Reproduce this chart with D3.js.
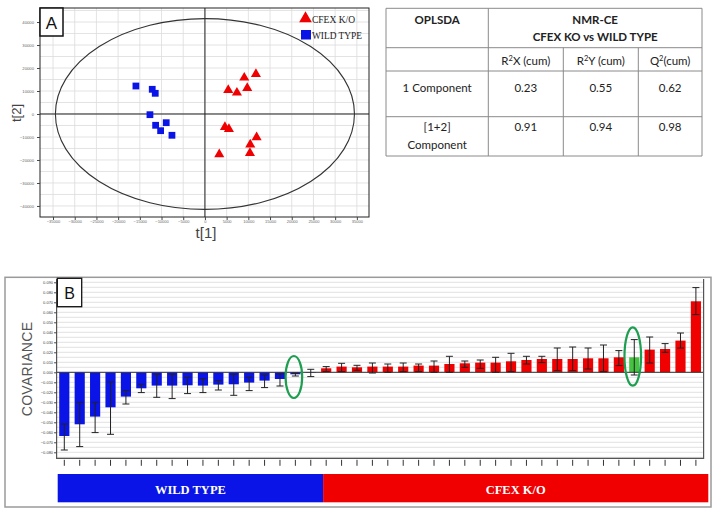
<!DOCTYPE html>
<html><head><meta charset="utf-8">
<script src="https://cdn.jsdelivr.net/npm/d3@7"></script>
<style>body{margin:0;background:#fff}svg{display:block}</style>
</head><body>
<svg id="c" width="714" height="514"></svg>
<script>
// ---------- Panel A : OPLS-DA score plot ----------
const wtT1 = [-15900, -12140, -11450, -12670, -11360, -8920, -10210, -7600];
const wtT2 = [12170, 10740, 9000, -300, -4910, -3780, -7260, -9260];
const koT1 = [11750, 9060, 5370, 7370, 9750, 4610, 5530, 11910, 10440, 10370, 3300];
const koT2 = [17390, 15780, 10430, 9260, 11300, -5650, -6520, -10130, -13350, -16960, -17520];
const t1Ticks = d3.range(-35000, 35001, 5000);
const t2Ticks = d3.range(-40000, 40001, 10000);
const ellipseT1 = 34450, ellipseT2 = 41500;
const groupNames = ["CFEX K/O", "WILD TYPE"];

// ---------- Table ----------
const tableHeader = ["OPLSDA", "NMR-CE", "CFEX KO vs WILD TYPE"];
const statNames = ["R", "X (cum)", "R", "Y (cum)", "Q", "(cum)"];
const rowNames = [["1 Component"], ["[1+2]", "Component"]];
const R2X = [0.23, 0.91];
const R2Y = [0.55, 0.94];
const Q2 = [0.62, 0.98];

// ---------- Panel B : covariance bars ----------
const variables = d3.range(1, 43).map(i => "V" + i);
const covariance = [-0.0637, -0.052, -0.0443, -0.035, -0.0243, -0.016, -0.0133, -0.0133, -0.013, -0.0133,
  -0.0123, -0.012, -0.0103, -0.0083, -0.0067, -0.002, -0.0005,
  0.004, 0.0057, 0.005, 0.0057, 0.0057, 0.0057, 0.0067, 0.0067, 0.0083, 0.009, 0.0097, 0.0097, 0.011,
  0.0123, 0.0133, 0.0133, 0.0133, 0.014, 0.014, 0.015, 0.015, 0.0227, 0.0233, 0.0317, 0.071];
const errHigh = [-0.0517, -0.030, -0.030, -0.0097, -0.0183, -0.012, -0.002, -0.002, -0.005, -0.0063,
  -0.0083, -0.002, -0.005, -0.0027, -0.0017, -0.001, 0.003,
  0.0057, 0.009, 0.007, 0.0093, 0.0083, 0.0093, 0.0083, 0.0113, 0.016, 0.0113, 0.0123, 0.015, 0.019,
  0.016, 0.016, 0.0243, 0.0253, 0.0243, 0.0273, 0.0217, 0.0327, 0.0353, 0.0287, 0.0393, 0.0847];
const errLow = [-0.0777, -0.0743, -0.0603, -0.062, -0.0317, -0.0203, -0.025, -0.0263, -0.0213, -0.0203,
  -0.0177, -0.023, -0.0183, -0.0153, -0.0137, -0.0037, -0.0043,
  0.0007, 0.0007, 0.002, -0.0007, 0.0, 0.0007, 0.0007, 0.0, 0.0, 0.005, 0.004, 0.0, 0.0007,
  0.0083, 0.0097, 0.0017, 0.0017, 0.0033, 0.0007, 0.0067, -0.0027, 0.0093, 0.020, 0.0243, 0.0577];
const highlighted = ["V16", "V38"];
const ringTop = [0.0163, 0.045];
const ringBottom = [-0.0257, -0.0134];
const covTicks = d3.range(-0.08, 0.0901, 0.01);
const groupSplit = 17; // first CFEX K/O variable index

const BLUE = "#0a14e6", RED = "#f00000", GREEN = "#45c23f", RING = "#1e9e50";
const svg = d3.select("#c");

// ======== Panel A ========
const A = {l: 40, r: 369, t: 8, b: 217};
const xA = d3.scaleLinear().domain([-38000, 37800]).range([A.l, A.r]);
const yA = d3.scaleLinear().domain([46100, -44800]).range([A.t, A.b]);
const gA = svg.append("g");
gA.append("rect").attr("x", A.l).attr("y", A.t).attr("width", A.r - A.l).attr("height", A.b - A.t).attr("fill", "#fff");
gA.selectAll(".vg").data(t1Ticks).join("line")
  .attr("x1", d => xA(d)).attr("x2", d => xA(d)).attr("y1", A.t).attr("y2", A.b)
  .attr("stroke", "#dcdcdc").attr("stroke-width", 0.8);
gA.selectAll(".hg").data(d3.range(-40000, 45001, 5000)).join("line")
  .attr("y1", d => yA(d)).attr("y2", d => yA(d)).attr("x1", A.l).attr("x2", A.r)
  .attr("stroke", "#dcdcdc").attr("stroke-width", 0.8);
gA.append("line").attr("x1", xA(0)).attr("x2", xA(0)).attr("y1", A.t).attr("y2", A.b).attr("stroke", "#222").attr("stroke-width", 1);
gA.append("line").attr("y1", yA(0)).attr("y2", yA(0)).attr("x1", A.l).attr("x2", A.r).attr("stroke", "#222").attr("stroke-width", 1);
gA.append("ellipse").attr("cx", xA(0)).attr("cy", yA(0))
  .attr("rx", xA(ellipseT1) - xA(0)).attr("ry", yA(0) - yA(ellipseT2))
  .attr("fill", "none").attr("stroke", "#333").attr("stroke-width", 1.1);
gA.append("rect").attr("x", A.l).attr("y", A.t).attr("width", A.r - A.l).attr("height", A.b - A.t)
  .attr("fill", "none").attr("stroke", "#222").attr("stroke-width", 1);
const axB = gA.append("g").attr("transform", `translate(0,${A.b})`)
  .call(d3.axisBottom(xA).tickValues(t1Ticks).tickSize(3).tickFormat(d3.format("d")));
axB.select(".domain").remove();
axB.selectAll("text").attr("font-size", 4).attr("fill", "#666").attr("y", 4).attr("dy", "0.5em");
axB.selectAll("line").attr("stroke", "#444");
const axL = gA.append("g").attr("transform", `translate(${A.l},0)`)
  .call(d3.axisLeft(yA).tickValues(t2Ticks).tickSize(3).tickFormat(d3.format("d")));
axL.select(".domain").remove();
axL.selectAll("text").attr("font-size", 4.2).attr("fill", "#666");
axL.selectAll("line").attr("stroke", "#444");
gA.append("text").attr("x", 206).attr("y", 238).attr("text-anchor", "middle")
  .attr("font-family", "Liberation Sans, Arial").attr("font-size", 15).attr("fill", "#444").text("t[1]");
gA.append("text").attr("transform", "translate(21,113) rotate(-90)").attr("text-anchor", "middle")
  .attr("font-family", "Liberation Sans, Arial").attr("font-size", 13).attr("fill", "#444").text("t[2]");
gA.selectAll(".wt").data(wtT1).join("path")
  .attr("transform", (d, i) => `translate(${xA(d)},${yA(wtT2[i])})`)
  .attr("d", d3.symbol(d3.symbolSquare, 46)).attr("fill", BLUE);
gA.selectAll(".ko").data(koT1).join("path")
  .attr("transform", (d, i) => `translate(${xA(d)},${yA(koT2[i])})`)
  .attr("d", d3.symbol(d3.symbolTriangle, 44)).attr("fill", RED);
gA.append("rect").attr("x", 40).attr("y", 8).attr("width", 23).attr("height", 28)
  .attr("fill", "#fff").attr("stroke", "#111").attr("stroke-width", 1.5);
gA.append("text").attr("x", 51.5).attr("y", 29).attr("text-anchor", "middle")
  .attr("font-family", "Liberation Sans, Arial").attr("font-size", 17).attr("fill", "#111").text("A");
gA.append("path").attr("transform", "translate(305.5,18.5)").attr("d", d3.symbol(d3.symbolTriangle, 70)).attr("fill", RED);
gA.append("rect").attr("x", 301).attr("y", 30).attr("width", 10).attr("height", 9.5).attr("fill", BLUE);
gA.append("text").attr("x", 312).attr("y", 22.5).attr("font-family", "Liberation Serif, Times New Roman")
  .attr("font-size", 11).attr("textLength", 43).attr("lengthAdjust", "spacingAndGlyphs")
  .attr("fill", "#222").text(groupNames[0]);
gA.append("text").attr("x", 312).attr("y", 39.3).attr("font-family", "Liberation Serif, Times New Roman")
  .attr("font-size", 11).attr("textLength", 50).attr("lengthAdjust", "spacingAndGlyphs")
  .attr("fill", "#222").text(groupNames[1]);

// ======== Table ========
const gT = svg.append("g").attr("font-family", "Lato, Open Sans, sans-serif").attr("fill", "#222");
const TX = [386, 488.3, 563.3, 638.3, 702];
const TY = [8.3, 47.7, 71, 116.7, 156];
const tl = (x1, y1, x2, y2) => gT.append("line").attr("x1", x1).attr("y1", y1).attr("x2", x2).attr("y2", y2)
  .attr("stroke", "#8a8a8a").attr("stroke-width", 1);
TY.forEach(y => tl(TX[0], y, TX[4], y));
tl(TX[0], TY[0], TX[0], TY[4]); tl(TX[4], TY[0], TX[4], TY[4]); tl(TX[1], TY[0], TX[1], TY[4]);
tl(TX[2], TY[1], TX[2], TY[4]); tl(TX[3], TY[1], TX[3], TY[4]);
const tt = (x, y, s, bold) => gT.append("text").attr("x", x).attr("y", y).attr("text-anchor", "middle")
  .attr("font-size", 11.5).attr("font-weight", bold ? "bold" : "normal").text(s);
tt((TX[0] + TX[1]) / 2, 24, tableHeader[0], true);
tt((TX[1] + TX[4]) / 2, 24, tableHeader[1], true);
tt((TX[1] + TX[4]) / 2, 41, tableHeader[2], true);
[0, 1, 2].forEach(k => {
  const t = gT.append("text").attr("x", (TX[k + 1] + TX[k + 2]) / 2).attr("y", 65).attr("text-anchor", "middle").attr("font-size", 11.5);
  t.append("tspan").text(statNames[2 * k]);
  t.append("tspan").attr("font-size", 7.5).attr("dy", -4).text("2");
  t.append("tspan").attr("dy", 4).text(statNames[2 * k + 1]);
});
const valFmt = d3.format(".2f");
[0, 1].forEach(r => {
  const y = r === 0 ? 92 : 131;
  rowNames[r].forEach((s, j) => tt((TX[0] + TX[1]) / 2, y + j * 17.5, s, false));
  [R2X, R2Y, Q2].forEach((arr, k) => tt((TX[k + 1] + TX[k + 2]) / 2, y, valFmt(arr[r]), false));
});

// ======== Panel B ========
const gB = svg.append("g");
gB.append("rect").attr("x", 5).attr("y", 277.3).attr("width", 706).attr("height", 229.7)
  .attr("fill", "none").attr("stroke", "#9a9a9a").attr("stroke-width", 1.5);
const B = {l: 56.6, r: 703.6, t: 279, b: 458.3};
const xB = d3.scaleBand().domain(variables).range([B.l, B.r]).paddingInner(0.34).paddingOuter(0.17);
const yB = d3.scaleLinear().domain([0.0933, -0.0860]).range([B.t, B.b]);
gB.selectAll(".hg").data(d3.range(-0.085, 0.0901, 0.005)).join("line")
  .attr("x1", B.l).attr("x2", B.r).attr("y1", d => yB(d)).attr("y2", d => yB(d))
  .attr("stroke", "#d9d9d9").attr("stroke-width", 0.8);
gB.selectAll(".bar").data(variables).join("rect")
  .attr("x", d => xB(d)).attr("width", xB.bandwidth())
  .attr("y", (d, i) => yB(Math.max(0, covariance[i])))
  .attr("height", (d, i) => Math.abs(yB(covariance[i]) - yB(0)))
  .attr("fill", (d, i) => highlighted.includes(d) && covariance[i] > 0.005 ? GREEN : (i < groupSplit ? BLUE : RED));
gB.append("line").attr("x1", B.l).attr("x2", B.r).attr("y1", yB(0)).attr("y2", yB(0)).attr("stroke", "#333").attr("stroke-width", 1);
const eb = gB.selectAll(".eb").data(variables).join("g").attr("stroke", "#222").attr("stroke-width", 1);
eb.append("line").attr("x1", d => xB(d) + xB.bandwidth() / 2).attr("x2", d => xB(d) + xB.bandwidth() / 2)
  .attr("y1", (d, i) => yB(errHigh[i])).attr("y2", (d, i) => yB(errLow[i]));
eb.append("line").attr("x1", d => xB(d) + xB.bandwidth() / 2 - 3.5).attr("x2", d => xB(d) + xB.bandwidth() / 2 + 3.5)
  .attr("y1", (d, i) => yB(errHigh[i])).attr("y2", (d, i) => yB(errHigh[i]));
eb.append("line").attr("x1", d => xB(d) + xB.bandwidth() / 2 - 3.5).attr("x2", d => xB(d) + xB.bandwidth() / 2 + 3.5)
  .attr("y1", (d, i) => yB(errLow[i])).attr("y2", (d, i) => yB(errLow[i]));
gB.append("path").attr("d", `M${B.l},${B.t}V${B.b}H${B.r}V${B.t}`).attr("fill", "none").attr("stroke", "#555").attr("stroke-width", 1.2);
const ayB = gB.append("g").attr("transform", `translate(${B.l},0)`)
  .call(d3.axisLeft(yB).tickValues(covTicks).tickSize(2.5).tickFormat(d3.format(".3f")));
ayB.select(".domain").remove();
ayB.selectAll("text").attr("font-size", 4).attr("fill", "#444").attr("x", -3.5);
ayB.selectAll("line").attr("stroke", "#444");
const axBB = gB.append("g").attr("transform", `translate(0,${B.b})`)
  .call(d3.axisBottom(xB).tickSize(6).tickFormat(""));
axBB.select(".domain").remove();
axBB.selectAll("line").attr("stroke", "#333").attr("transform", "translate(0,1.5)");
highlighted.forEach((v, k) => {
  gB.append("ellipse").attr("cx", xB(v) + xB.bandwidth() / 2 - 1.5)
    .attr("cy", (yB(ringTop[k]) + yB(ringBottom[k])) / 2)
    .attr("rx", 8.3).attr("ry", (yB(ringBottom[k]) - yB(ringTop[k])) / 2)
    .attr("fill", "none").attr("stroke", RING).attr("stroke-width", 2.2);
});
gB.append("rect").attr("x", 57.3).attr("y", 278.3).attr("width", 24.4).attr("height", 28.4)
  .attr("fill", "#fff").attr("stroke", "#111").attr("stroke-width", 1.3);
gB.append("text").attr("x", 69.5).attr("y", 299).attr("text-anchor", "middle")
  .attr("font-family", "Liberation Sans, Arial").attr("font-size", 16).attr("fill", "#111").text("B");
gB.append("text").attr("transform", "translate(32,369) rotate(-90)").attr("text-anchor", "middle")
  .attr("font-family", "Liberation Sans, Arial").attr("font-size", 14).attr("letter-spacing", 0.3)
  .attr("fill", "#555").text("COVARIANCE");
const splitX = xB(variables[groupSplit]) + 2;
gB.append("rect").attr("x", 57.7).attr("y", 474).attr("width", splitX - 57.7).attr("height", 28.3).attr("fill", BLUE);
gB.append("rect").attr("x", splitX).attr("y", 474).attr("width", 708.3 - splitX).attr("height", 28.3).attr("fill", RED);
gB.append("text").attr("x", (57.7 + splitX) / 2).attr("y", 493.5).attr("text-anchor", "middle")
  .attr("font-family", "Liberation Serif, Times New Roman").attr("font-weight", "bold").attr("font-size", 12.5)
  .attr("fill", "#fff").text(groupNames[1]);
gB.append("text").attr("x", (splitX + 708.3) / 2).attr("y", 493.5).attr("text-anchor", "middle")
  .attr("font-family", "Liberation Serif, Times New Roman").attr("font-weight", "bold").attr("font-size", 12.5)
  .attr("fill", "#fff").text(groupNames[0]);
</script>
</body></html>
